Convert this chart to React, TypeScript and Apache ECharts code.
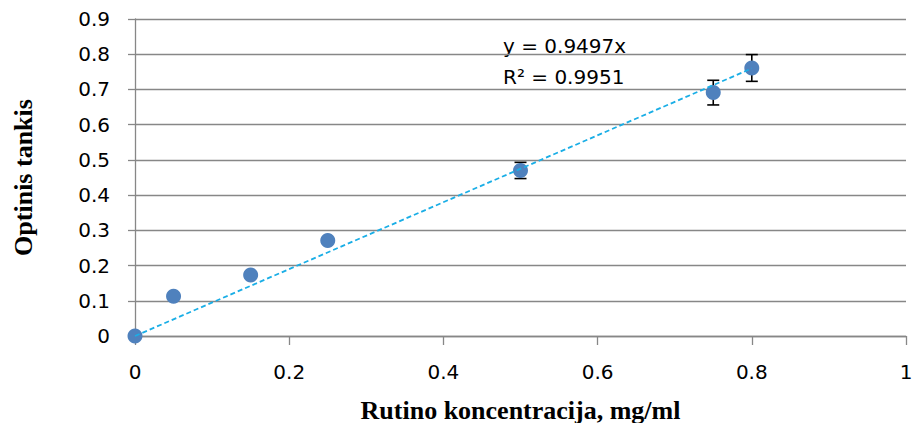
import React, { useEffect, useRef } from "react";
import * as echarts from "echarts";

const concentrations = [0, 0.05, 0.15, 0.25, 0.5, 0.75, 0.8];
const absorbance = [0, 0.113, 0.173, 0.271, 0.47, 0.691, 0.761];
const errors = [0, 0, 0, 0.004, 0.023, 0.035, 0.038];
const slope = 0.9497;
const rSquared = 0.9951;
const trendEnd = 0.8;
const xTicks = { min: 0, max: 1, interval: 0.2 };
const yTicks = { min: 0, max: 0.9, interval: 0.1 };

export default function App() {
  const ref = useRef<HTMLDivElement>(null);
  useEffect(() => {
    if (!ref.current) return;
    const chart = echarts.init(ref.current, null, { renderer: "svg" });
    const points = concentrations.map((x, i) => [x, absorbance[i]]);
    const errData = concentrations.map((x, i) => [x, absorbance[i], errors[i]]);
    const axisColor = "#878787";
    const numFont = "DejaVu Sans";
    chart.setOption({
      animation: false,
      grid: {
        left: 135,
        right: 7,
        top: 19,
        bottom: 87,
        containLabel: false,
        outerBoundsMode: "none",
      },
      xAxis: {
        type: "value",
        min: xTicks.min,
        max: xTicks.max,
        interval: xTicks.interval,
        name: "Rutino koncentracija, mg/ml",
        nameLocation: "middle",
        nameGap: 61,
        nameTextStyle: {
          fontFamily: "Liberation Serif",
          fontWeight: "bold",
          fontSize: 26,
          color: "#000",
        },
        axisLine: { show: true, lineStyle: { color: axisColor, width: 1.3 } },
        axisTick: { show: true, length: 9, lineStyle: { color: axisColor, width: 1.3 } },
        axisLabel: {
          margin: 26,
          fontFamily: numFont,
          fontSize: 20,
          color: "#000",
        },
        splitLine: { show: false },
      },
      yAxis: {
        type: "value",
        min: yTicks.min,
        max: yTicks.max,
        interval: yTicks.interval,
        name: "Optinis tankis",
        nameLocation: "middle",
        nameGap: 99,
        nameTextStyle: {
          fontFamily: "Liberation Serif",
          fontWeight: "bold",
          fontSize: 26,
          color: "#000",
        },
        axisLine: { show: true, lineStyle: { color: axisColor, width: 1.3 } },
        axisTick: { show: true, length: 7, lineStyle: { color: axisColor, width: 1.3 } },
        axisLabel: {
          margin: 25,
          fontFamily: numFont,
          fontSize: 20,
          color: "#000",
        },
        splitLine: { show: true, lineStyle: { color: axisColor, width: 1.3 } },
      },
      series: [
        {
          type: "custom",
          z: 2,
          data: errData,
          renderItem: (params: any, api: any) => {
            const x = api.value(0);
            const y = api.value(1);
            const e = api.value(2);
            if (!e) return null;
            const top = api.coord([x, y + e]);
            const bot = api.coord([x, y - e]);
            const cap = 6;
            const style = { stroke: "#000", lineWidth: 1.6 };
            return {
              type: "group",
              children: [
                { type: "line", shape: { x1: top[0], y1: top[1], x2: bot[0], y2: bot[1] }, style },
                { type: "line", shape: { x1: top[0] - cap, y1: top[1], x2: top[0] + cap, y2: top[1] }, style },
                { type: "line", shape: { x1: bot[0] - cap, y1: bot[1], x2: bot[0] + cap, y2: bot[1] }, style },
              ],
            };
          },
        },
        {
          type: "scatter",
          z: 3,
          data: points,
          symbol: "circle",
          symbolSize: 15,
          itemStyle: { color: "#4f81bd", opacity: 1 },
        },
        {
          type: "line",
          z: 4,
          data: [
            [0, 0],
            [trendEnd, trendEnd * slope],
          ],
          symbol: "none",
          lineStyle: { color: "#1aaee6", width: 1.8, type: [5, 3] },
        },
      ],
      graphic: [
        {
          type: "text",
          left: 503,
          top: 36,
          style: {
            text: `y = ${slope}x`,
            fontFamily: numFont,
            fontSize: 20,
            fill: "#000",
          },
        },
        {
          type: "text",
          left: 503,
          top: 67,
          style: {
            text: `R² = ${rSquared}`,
            fontFamily: numFont,
            fontSize: 20,
            fill: "#000",
          },
        },
      ],
    });
    return () => chart.dispose();
  }, []);
  return (
    <div
      ref={ref}
      style={{ position: "absolute", left: 0, top: 0, width: 913, height: 423 }}
    />
  );
}
